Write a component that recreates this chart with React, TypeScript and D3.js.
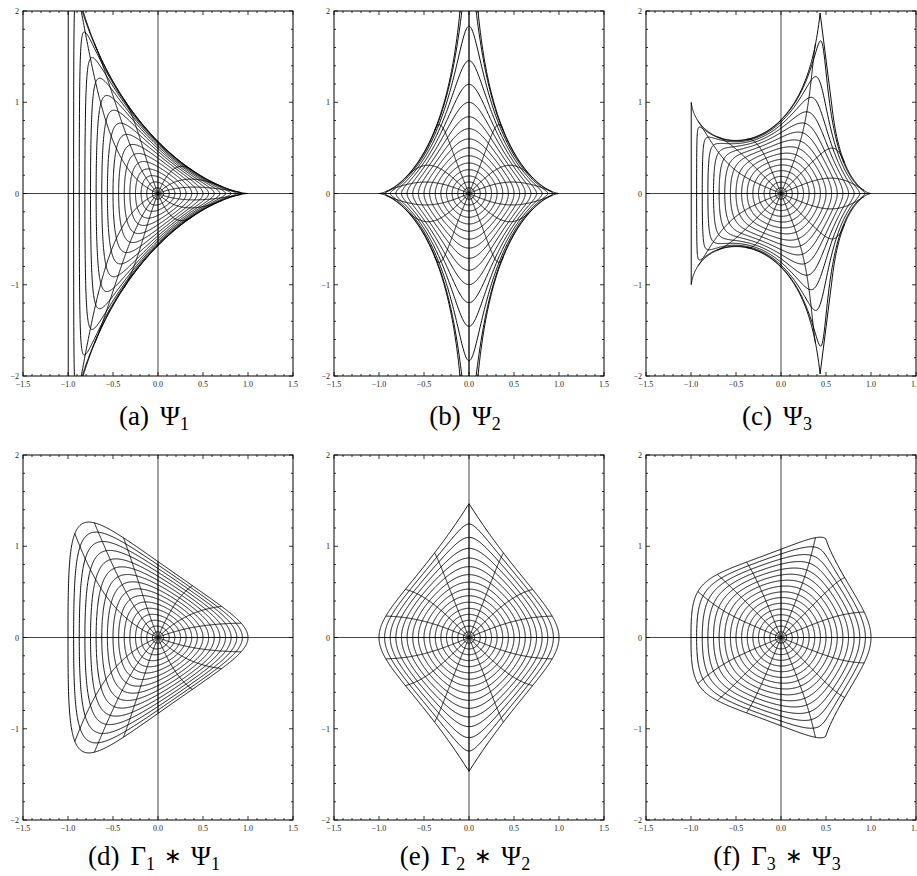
import React, { useMemo } from 'react';
import * as d3 from 'd3';

// orders n of the three mappings (dilatation z^n)
const ORDERS = [1, 2, 3];
// mesh circles |z| = r and rays arg z = t
const RADII = [0.0625, 0.125, 0.1875, 0.25, 0.3125, 0.375, 0.4375, 0.5, 0.5625, 0.625, 0.6875, 0.75, 0.8125, 0.875, 0.9375, 1];
const RAY_ANGLES = [0, 22.5, 45, 67.5, 90, 112.5, 135, 157.5, 180, 202.5, 225, 247.5, 270, 292.5, 315, 337.5];

const X_TICKS = [-1.5, -1, -0.5, 0, 0.5, 1, 1.5];
const X_TICK_LABELS = ['\u22121.5', '\u22121.0', '\u22120.5', '0.0', '0.5', '1.0', '1.5'];
const Y_TICKS = [-2, -1, 0, 1, 2];
const Y_TICK_LABELS = ['\u22122', '\u22121', '0', '1', '2'];
const TOP_LETTERS = ['(a)', '(b)', '(c)'];
const BOTTOM_LETTERS = ['(d)', '(e)', '(f)'];

const W = 917;
const H = 876;
const PW = 270;
const PH = 365;
const COL_X = [23, 334, 646];
const ROW_Y = [11, 455];
const CAPTION_Y = [425, 865];
const SERIF = '"Liberation Serif", "Times New Roman", serif';

// Im of Psi_n : h + g = z, h - g = 2 int 1/(1+t^n) - z
const topY = (n, r, t) => {
  const zr = r * Math.cos(t);
  const zi = r * Math.sin(t);
  let y = -zi;
  for (let j = 0; j < n; j++) {
    const a = (Math.PI * (2 * j + 1)) / n;
    const wr = Math.cos(a);
    const wi = Math.sin(a);
    const ur = 1 - (zr * wr + zi * wi);
    const ui = -(zi * wr - zr * wi);
    const lr = 0.5 * Math.log(ur * ur + ui * ui);
    const li = Math.atan2(ui, ur);
    y += (-2 * wr / n) * li + (-2 * wi / n) * lr;
  }
  return y;
};

// Im of Gamma_n * Psi_n : coefficients of Psi_n divided by m
const bottomY = (n, r, t) => {
  let y = r * Math.sin(t);
  for (let k = 1; k < 4000; k++) {
    const m = n * k + 1;
    const c = (2 * Math.pow(r, m)) / (m * m);
    if (c < 1e-7) break;
    y += (k % 2 ? -c : c) * Math.sin(m * t);
  }
  return y;
};

const clampY = (v) => Math.max(-20, Math.min(20, v));

const buildCurves = (n, bottom) => {
  const f = bottom ? bottomY : topY;
  const sing = d3.range(n).map((j) => (Math.PI * (2 * j + 1)) / n);
  const circles = RADII.map((r) => {
    const N = 720;
    const pts = [];
    for (let i = 0; i <= N; i++) {
      const t = ((i + 0.5) * 2 * Math.PI) / N;
      if (!bottom && r === 1) {
        // the boundary curve is cut short next to the singular points
        const near = sing.some((s) => {
          const d = Math.abs(((t - s + 3 * Math.PI) % (2 * Math.PI)) - Math.PI);
          return d < 0.07;
        });
        if (near) continue;
      }
      pts.push([r * Math.cos(t), clampY(f(n, r, t))]);
    }
    return pts;
  });
  const rays = RAY_ANGLES.map((deg) => {
    const t = (deg * Math.PI) / 180;
    return d3.range(0, 301).map((i) => {
      const r = Math.min(i / 300, bottom ? 1 : 0.9999);
      return [r * Math.cos(t), clampY(f(n, r, t))];
    });
  });
  return [...circles, ...rays];
};

const Panel = ({ id, left, top, base, curves, letter, symbol, n }) => {
  const x = d3.scaleLinear().domain([-1.5, 1.5]).range([left, left + PW]);
  const y = d3.scaleLinear().domain([-2, 2]).range([top + PH, top]);
  const line = d3
    .line()
    .x((d) => x(d[0]))
    .y((d) => y(d[1]));
  const minorX = d3.range(-15, 16).map((v) => v / 10);
  const minorY = d3.range(-10, 11).map((v) => v / 5);
  const isMajor = (v, step) => Math.abs(v / step - Math.round(v / step)) < 1e-6;
  const cx = left + PW / 2 - 4;

  return (
    <g>
      <defs>
        <clipPath id={id}>
          <rect x={left} y={top} width={PW} height={PH} />
        </clipPath>
      </defs>
      <g clipPath={`url(#${id})`}>
        <line x1={x(0)} x2={x(0)} y1={top} y2={top + PH} stroke="#444" strokeWidth={1} />
        <line x1={left} x2={left + PW} y1={y(0)} y2={y(0)} stroke="#444" strokeWidth={1} />
        {curves.map((c, i) => (
          <path key={i} d={line(c)} fill="none" stroke="#000" strokeWidth={0.95} strokeLinejoin="round" />
        ))}
      </g>
      {minorX.map((v, i) => {
        const len = isMajor(v, 0.5) ? 4 : 2;
        return (
          <g key={'x' + i}>
            <line x1={x(v)} x2={x(v)} y1={top + PH} y2={top + PH - len} stroke="#000" strokeWidth={0.8} />
            <line x1={x(v)} x2={x(v)} y1={top} y2={top + len} stroke="#000" strokeWidth={0.8} />
          </g>
        );
      })}
      {minorY.map((v, i) => {
        const len = isMajor(v, 1) ? 4 : 2;
        return (
          <g key={'y' + i}>
            <line x1={left} x2={left + len} y1={y(v)} y2={y(v)} stroke="#000" strokeWidth={0.8} />
            <line x1={left + PW} x2={left + PW - len} y1={y(v)} y2={y(v)} stroke="#000" strokeWidth={0.8} />
          </g>
        );
      })}
      <rect x={left} y={top} width={PW} height={PH} fill="none" stroke="#000" strokeWidth={1} />
      {X_TICKS.map((v, i) => (
        <text key={'xl' + i} x={x(v)} y={top + PH + 11} fontSize={8} fontFamily={SERIF} textAnchor="middle" fill="#222">
          {X_TICK_LABELS[i]}
        </text>
      ))}
      {Y_TICKS.map((v, i) => (
        <text key={'yl' + i} x={left - 4} y={y(v) + 3} fontSize={8} fontFamily={SERIF} textAnchor="end" fill="#222">
          {Y_TICK_LABELS[i]}
        </text>
      ))}
      {symbol === 'top' ? (
        <text x={cx} y={base} fontSize={27} fontFamily={SERIF} textAnchor="middle">
          {letter}
          <tspan dx={11}>{'\u03A8'}</tspan>
          <tspan fontSize={18} dy={5}>{n}</tspan>
        </text>
      ) : (
        <text x={cx} y={base} fontSize={27} fontFamily={SERIF} textAnchor="middle">
          {letter}
          <tspan dx={11}>{'\u0393'}</tspan>
          <tspan fontSize={18} dy={5}>{n}</tspan>
          <tspan fontSize={21} dx={9} dy={-7}>{'\u2217'}</tspan>
          <tspan dx={9} dy={2}>{'\u03A8'}</tspan>
          <tspan fontSize={18} dy={5}>{n}</tspan>
        </text>
      )}
    </g>
  );
};

export default function App() {
  const topCurves = useMemo(() => ORDERS.map((n) => buildCurves(n, false)), []);
  const bottomCurves = useMemo(() => ORDERS.map((n) => buildCurves(n, true)), []);

  return (
    <svg width={W} height={H} style={{ position: 'absolute', left: 0, top: 0, background: '#fff' }}>
      <rect width={W} height={H} fill="#fff" />
      {ORDERS.map((n, i) => (
        <Panel key={'t' + n} id={'ct' + n} left={COL_X[i]} top={ROW_Y[0]} base={CAPTION_Y[0]} curves={topCurves[i]} letter={TOP_LETTERS[i]} symbol="top" n={n} />
      ))}
      {ORDERS.map((n, i) => (
        <Panel key={'b' + n} id={'cb' + n} left={COL_X[i]} top={ROW_Y[1]} base={CAPTION_Y[1]} curves={bottomCurves[i]} letter={BOTTOM_LETTERS[i]} symbol="bottom" n={n} />
      ))}
    </svg>
  );
}
